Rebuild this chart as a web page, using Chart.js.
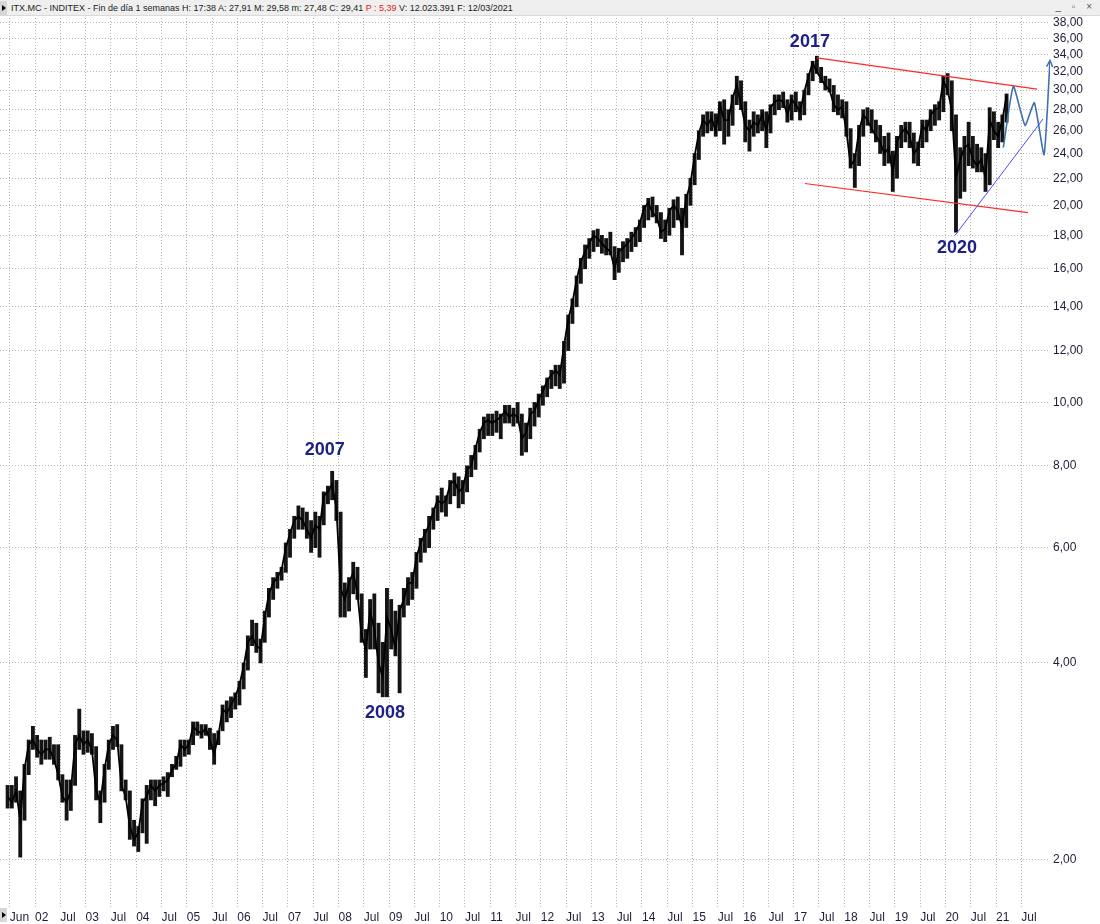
<!DOCTYPE html>
<html>
<head>
<meta charset="utf-8">
<script src="https://cdn.jsdelivr.net/npm/chart.js@4.4.0/dist/chart.umd.min.js"></script>
<style>
  html, body { margin: 0; padding: 0; background: #fff; }
  #wrap { position: relative; width: 1100px; height: 924px; }
  #head {
    position: absolute; left: 0; top: 0; width: 1100px; height: 16px;
    background: #efefef; border-bottom: 1px solid #dadada;
    font: 9px "Liberation Sans", Arial, sans-serif; color: #222;
    line-height: 16px; white-space: pre; box-sizing: border-box; padding-left: 11px;
  }
  #head .red { color: #e02020; }
  .tri { position: absolute; left: 0; width: 7px; height: 14px; background: #d6d6d6; }
  .tri:after { content: ''; position: absolute; left: 2px; top: 4px; border-left: 4px solid #000;
    border-top: 3px solid transparent; border-bottom: 3px solid transparent; }
  #btns { position: absolute; right: 4px; top: 1px; font: 10px "Liberation Sans", Arial; color: #555; letter-spacing: 4px; }
  canvas { position: absolute; left: 0; top: 0; }
</style>
</head>
<body>
<div id="wrap">
  <canvas id="chart" width="1100" height="924"></canvas>
  <div id="head">ITX.MC - INDITEX - Fin de día 1 semanas H: 17:38 A: 27,91 M: 29,58 m: 27,48 C: 29,41 <span class="red">P : 5,39</span> V: 12.023.391 F: 12/03/2021</div>
  <div class="tri" style="top:1px"></div>
  <div class="tri" style="top:908px"></div>
  <div id="btns">_ ▫ ×</div>
</div>
<script>
// =====================
// Datos (mensual, desde jun 2001)
// =====================
const firstYear = 2001, firstMonth = 6;

const lows = [
  2.40, 2.40, 2.45, 2.02, 2.30, 2.70, 2.95,                         // 2001
  2.87, 2.80, 2.85, 2.85, 2.80, 2.65, 2.45, 2.30, 2.38, 2.60, 2.95, 2.90, // 2002
  2.92, 2.90, 2.47, 2.28, 2.45, 2.75, 2.95, 2.98, 2.55, 2.47, 2.15, 2.10, // 2003
  2.06, 2.20, 2.12, 2.47, 2.42, 2.50, 2.55, 2.50, 2.68, 2.75, 2.78, 2.88, // 2004
  2.90, 3.00, 3.10, 3.07, 3.10, 2.95, 2.80, 3.00, 3.15, 3.25, 3.30, 3.40, // 2005
  3.45, 3.65, 3.90, 4.25, 4.15, 4.00, 4.30, 4.70, 5.00, 5.20, 5.35, 5.50, // 2006
  5.80, 6.20, 6.40, 6.40, 6.20, 5.90, 6.00, 5.80, 6.50, 7.00, 7.10, 6.60, // 2007
  4.70, 4.70, 4.80, 5.10, 5.00, 4.30, 3.80, 4.20, 4.20, 3.60, 3.55, 3.55, // 2008
  4.20, 4.10, 3.60, 4.70, 4.90, 5.00, 5.20, 5.70, 5.90, 6.00, 6.40, 6.60, // 2009
  6.80, 6.70, 7.00, 7.20, 6.90, 7.00, 7.30, 7.70, 7.90, 8.40, 8.80, 8.90, // 2010
  8.90, 9.00, 8.80, 9.30, 9.30, 9.20, 9.30, 8.30, 8.40, 8.80, 9.20, 9.50, // 2011
  9.90, 10.2, 10.5, 10.6, 10.5, 10.7, 12.0, 13.2, 14.0, 15.2, 16.0, 16.6, // 2012
  17.0, 17.3, 16.9, 16.8, 16.8, 15.4, 15.8, 16.4, 16.6, 17.0, 17.3, 17.6, // 2013
  18.5, 19.0, 19.2, 18.8, 17.8, 17.6, 18.0, 18.5, 19.0, 16.8, 18.5, 20.0, // 2014
  21.5, 23.5, 25.5, 25.8, 26.0, 25.5, 26.0, 24.8, 25.5, 26.5, 28.5, 28.0, // 2015
  25.0, 24.2, 25.5, 25.8, 26.0, 24.5, 25.8, 27.5, 28.0, 28.2, 26.8, 27.0, // 2016
  27.8, 27.0, 27.5, 29.5, 31.0, 31.8, 30.8, 30.0, 29.8, 27.8, 27.5, 27.2, // 2017
  25.5, 22.8, 21.3, 23.0, 25.5, 26.5, 25.8, 25.0, 24.0, 23.0, 23.2, 21.0, // 2018
  22.0, 24.5, 25.0, 24.5, 23.2, 23.0, 24.5, 25.0, 26.0, 26.5, 27.0, 27.8, // 2019
  29.5, 26.0, 18.2, 20.5, 21.0, 23.0, 22.8, 22.5, 22.5, 21.0, 21.5, 25.2, // 2020
  24.5, 25.0, 26.8                                                  // 2021
];
const highs = [
  2.60, 2.60, 2.68, 2.55, 2.80, 3.05, 3.20,
  3.10, 3.05, 3.05, 3.08, 3.00, 3.00, 2.70, 2.65, 2.65, 3.10, 3.40, 3.15,
  3.15, 3.12, 2.98, 2.55, 2.80, 3.05, 3.20, 3.22, 3.00, 2.65, 2.55, 2.30,
  2.25, 2.48, 2.60, 2.65, 2.65, 2.65, 2.68, 2.72, 2.80, 2.88, 3.05, 3.05,
  3.05, 3.25, 3.25, 3.22, 3.22, 3.18, 3.12, 3.15, 3.45, 3.50, 3.55, 3.60,
  3.75, 4.00, 4.40, 4.65, 4.60, 4.35, 4.80, 5.20, 5.40, 5.50, 5.60, 6.10,
  6.40, 6.70, 6.95, 6.90, 6.80, 6.60, 6.80, 6.70, 7.30, 7.45, 7.85, 7.60,
  6.80, 5.30, 5.40, 5.70, 5.60, 5.10, 4.50, 5.00, 5.10, 4.60, 4.30, 5.20,
  5.00, 4.80, 4.90, 5.20, 5.40, 5.50, 5.90, 6.20, 6.40, 6.70, 6.90, 7.20,
  7.40, 7.20, 7.60, 7.80, 7.70, 7.60, 8.00, 8.30, 8.60, 9.10, 9.50, 9.60,
  9.60, 9.70, 9.60, 9.90, 9.90, 9.80, 10.0, 9.60, 9.30, 9.80, 10.0, 10.3,
  10.6, 10.9, 11.2, 11.4, 11.4, 12.4, 13.6, 14.4, 15.6, 16.6, 17.4, 17.8,
  18.3, 18.4, 18.0, 17.8, 18.2, 17.3, 17.2, 17.6, 17.8, 18.2, 18.5, 19.0,
  20.0, 20.5, 20.6, 20.0, 19.5, 19.0, 19.8, 20.4, 20.6, 19.8, 20.8, 22.0,
  24.0, 26.0, 27.5, 27.8, 27.8, 27.6, 28.8, 29.0, 28.0, 29.5, 31.5, 31.0,
  28.8, 27.0, 27.8, 27.5, 28.0, 27.8, 28.5, 29.5, 29.5, 29.8, 29.0, 29.5,
  29.8, 28.8, 30.0, 31.8, 33.2, 33.8, 32.5, 31.5, 31.2, 30.5, 29.5, 29.0,
  28.8, 26.2, 24.0, 26.5, 28.0, 28.2, 28.0, 27.0, 26.5, 25.5, 25.8, 24.2,
  25.5, 26.5, 26.8, 26.8, 25.8, 25.0, 27.0, 27.0, 28.0, 28.5, 28.8, 31.5,
  31.8, 31.0, 27.5, 24.5, 25.5, 26.8, 25.5, 24.8, 24.5, 24.0, 28.2, 27.8,
  26.8, 27.5, 29.6
];
const closes = [
  2.50, 2.45, 2.55, 2.30, 2.75, 3.00, 3.05,
  2.95, 2.90, 2.95, 2.95, 2.85, 2.70, 2.50, 2.45, 2.55, 3.00, 3.10, 3.00,
  3.05, 2.95, 2.55, 2.45, 2.75, 3.00, 3.10, 3.05, 2.60, 2.50, 2.25, 2.15,
  2.20, 2.45, 2.50, 2.60, 2.55, 2.60, 2.62, 2.65, 2.75, 2.80, 3.00, 2.95,
  3.00, 3.20, 3.15, 3.12, 3.18, 3.05, 2.90, 3.10, 3.40, 3.35, 3.45, 3.55,
  3.70, 3.95, 4.30, 4.40, 4.25, 4.20, 4.70, 5.10, 5.30, 5.40, 5.55, 6.00,
  6.30, 6.60, 6.70, 6.60, 6.40, 6.20, 6.50, 6.40, 7.20, 7.30, 7.50, 6.90,
  5.20, 5.00, 5.30, 5.50, 5.10, 4.40, 4.20, 4.80, 4.50, 4.00, 3.80, 4.70,
  4.50, 4.20, 4.80, 5.00, 5.30, 5.30, 5.80, 6.10, 6.30, 6.50, 6.80, 7.10,
  7.00, 7.10, 7.50, 7.60, 7.30, 7.40, 7.90, 8.00, 8.50, 9.00, 9.30, 9.40,
  9.30, 9.40, 9.50, 9.70, 9.50, 9.60, 9.50, 8.80, 9.00, 9.60, 9.70, 10.1,
  10.4, 10.8, 11.0, 11.2, 11.0, 12.2, 13.4, 14.2, 15.4, 16.4, 17.0, 17.5,
  18.0, 17.8, 17.5, 17.2, 17.0, 16.0, 17.0, 17.2, 17.5, 17.8, 18.2, 18.8,
  19.8, 20.2, 19.5, 19.2, 18.2, 18.4, 19.6, 20.0, 19.6, 18.5, 20.5, 21.6,
  23.8, 25.8, 27.0, 26.5, 27.2, 26.0, 28.5, 27.0, 27.0, 29.2, 30.5, 28.5,
  26.5, 26.0, 26.8, 26.5, 27.5, 26.0, 28.2, 28.8, 29.0, 28.8, 27.5, 29.0,
  28.5, 27.8, 29.8, 31.5, 33.0, 32.0, 31.2, 30.5, 30.0, 28.5, 28.0, 28.3,
  26.0, 23.0, 23.5, 26.0, 27.5, 27.0, 26.2, 25.5, 25.0, 24.0, 24.5, 22.4,
  25.0, 25.8, 26.2, 25.5, 24.0, 24.5, 26.5, 26.0, 27.5, 28.0, 28.2, 31.0,
  30.0, 28.0, 22.0, 23.5, 24.5, 24.8, 23.5, 23.0, 23.5, 22.0, 27.0, 26.0,
  25.5, 27.0, 29.41
];

// Proyección y líneas de tendencia (año decimal, precio)
const projX = [2021.144, 2021.342, 2021.573, 2021.757, 2021.95, 2022.067];
const projY = [24.5, 30.4, 26.5, 28.7, 23.9, 33.3];
const upperX = [2017.46, 2021.81], upperY = [33.6, 30.1];
const lowerX = [2017.22, 2021.63], lowerY = [21.6, 19.5];
const trendX = [2020.19, 2021.93], trendY = [18.0, 27.1];

// Ejes
const xTicks = [2001.5];
for (let yr = 2002; yr <= 2021; yr++) xTicks.push(yr, yr + 0.5);
const xTickLabels = ['Jun',
  '02','Jul','03','Jul','04','Jul','05','Jul','06','Jul','07','Jul','08','Jul','09','Jul',
  '10','Jul','11','Jul','12','Jul','13','Jul','14','Jul','15','Jul','16','Jul','17','Jul',
  '18','Jul','19','Jul','20','Jul','21','Jul'];
const yTicks = [2,4,6,8,10,12,14,16,18,20,22,24,26,28,30,32,34,36,38];

const notes = [
  { text: '2007', x: 2007.73, y: 8.46 },
  { text: '2008', x: 2008.92, y: 3.35 },
  { text: '2017', x: 2017.32, y: 35.5 },
  { text: '2020', x: 2020.23, y: 17.2 }
];

// =====================
// Helpers
// =====================
const monthX = (i) => firstYear + (firstMonth - 1 + i + 0.5) / 12;
const pts = (xs, ys) => xs.map((v, i) => ({ x: v, y: ys[i] }));
const font = '"Liberation Sans", Arial, sans-serif';
const gridGray = '#b4b4b4';

const notesPlugin = {
  id: 'notes',
  afterDatasetsDraw(chart) {
    const { ctx, scales: { x, y } } = chart;
    ctx.save();
    ctx.font = 'bold 18px ' + font;
    ctx.fillStyle = '#1c2088';
    ctx.textAlign = 'center';
    ctx.textBaseline = 'middle';
    notes.forEach(n => ctx.fillText(n.text, x.getPixelForValue(n.x), y.getPixelForValue(n.y)));

    // punta de flecha al final de la proyección
    const n = projX.length;
    const x1 = x.getPixelForValue(projX[n - 1]), y1 = y.getPixelForValue(projY[n - 1]);
    const x0 = x.getPixelForValue(projX[n - 2]), y0 = y.getPixelForValue(projY[n - 2]);
    const a = Math.atan2(y1 - y0, x1 - x0);
    ctx.strokeStyle = '#3d72ad';
    ctx.lineWidth = 1.5;
    ctx.beginPath();
    ctx.moveTo(x1 - 7 * Math.cos(a - 0.45), y1 - 7 * Math.sin(a - 0.45));
    ctx.lineTo(x1, y1);
    ctx.lineTo(x1 - 7 * Math.cos(a + 0.45), y1 - 7 * Math.sin(a + 0.45));
    ctx.stroke();
    ctx.restore();
  }
};

// =====================
// Chart
// =====================
const ctx = document.getElementById('chart').getContext('2d');

new Chart(ctx, {
  type: 'bar',
  data: {
    datasets: [
      {
        type: 'bar',
        data: lows.map((l, i) => ({ x: monthX(i), y: [l, highs[i]] })),
        backgroundColor: '#141414',
        borderWidth: 0,
        barThickness: 3.2,
        grouped: false,
        order: 2
      },
      {
        type: 'line',
        data: closes.map((c, i) => ({ x: monthX(i), y: c })),
        borderColor: '#000',
        borderWidth: 1.8,
        pointRadius: 0,
        tension: 0,
        order: 1
      },
      {
        type: 'line',
        data: pts(upperX, upperY),
        borderColor: '#ff2a2a', borderWidth: 1.2, pointRadius: 0
      },
      {
        type: 'line',
        data: pts(lowerX, lowerY),
        borderColor: '#ff2a2a', borderWidth: 1.2, pointRadius: 0
      },
      {
        type: 'line',
        data: pts(trendX, trendY),
        borderColor: '#4b4bff', borderWidth: 1, pointRadius: 0
      },
      {
        type: 'line',
        data: pts(projX, projY),
        borderColor: '#3d72ad', borderWidth: 1.6, pointRadius: 0,
        tension: 0.15
      }
    ]
  },
  options: {
    responsive: false,
    animation: false,
    layout: { padding: { top: 18, left: 0, right: 0, bottom: 0 } },
    plugins: { legend: { display: false }, tooltip: { enabled: false } },
    scales: {
      x: {
        type: 'linear',
        offset: false,
        min: 2001.308,
        max: 2022.067,
        afterBuildTicks: (s) => { s.ticks = xTicks.map(v => ({ value: v })); },
        afterFit: (s) => { s.height = 17; },
        grid: { color: gridGray, drawTicks: false, offset: false },
        border: { display: false, dash: [1, 2] },
        ticks: {
          autoSkip: false, maxRotation: 0, align: 'start', padding: 3,
          color: '#1d1d3a', font: { family: font, size: 12 },
          callback: (v, i) => xTickLabels[i]
        }
      },
      y: {
        type: 'logarithmic',
        position: 'right',
        min: 1.695,
        max: 38.66,
        afterBuildTicks: (s) => { s.ticks = yTicks.map(v => ({ value: v })); },
        afterFit: (s) => { s.width = 50; },
        grid: { color: gridGray, drawTicks: false },
        border: { display: false, dash: [1, 2] },
        ticks: {
          padding: 3,
          color: '#1d1d3a', font: { family: font, size: 12 },
          callback: (v) => v.toFixed(2).replace('.', ',')
        }
      }
    }
  },
  plugins: [notesPlugin]
});
</script>
</body>
</html>
